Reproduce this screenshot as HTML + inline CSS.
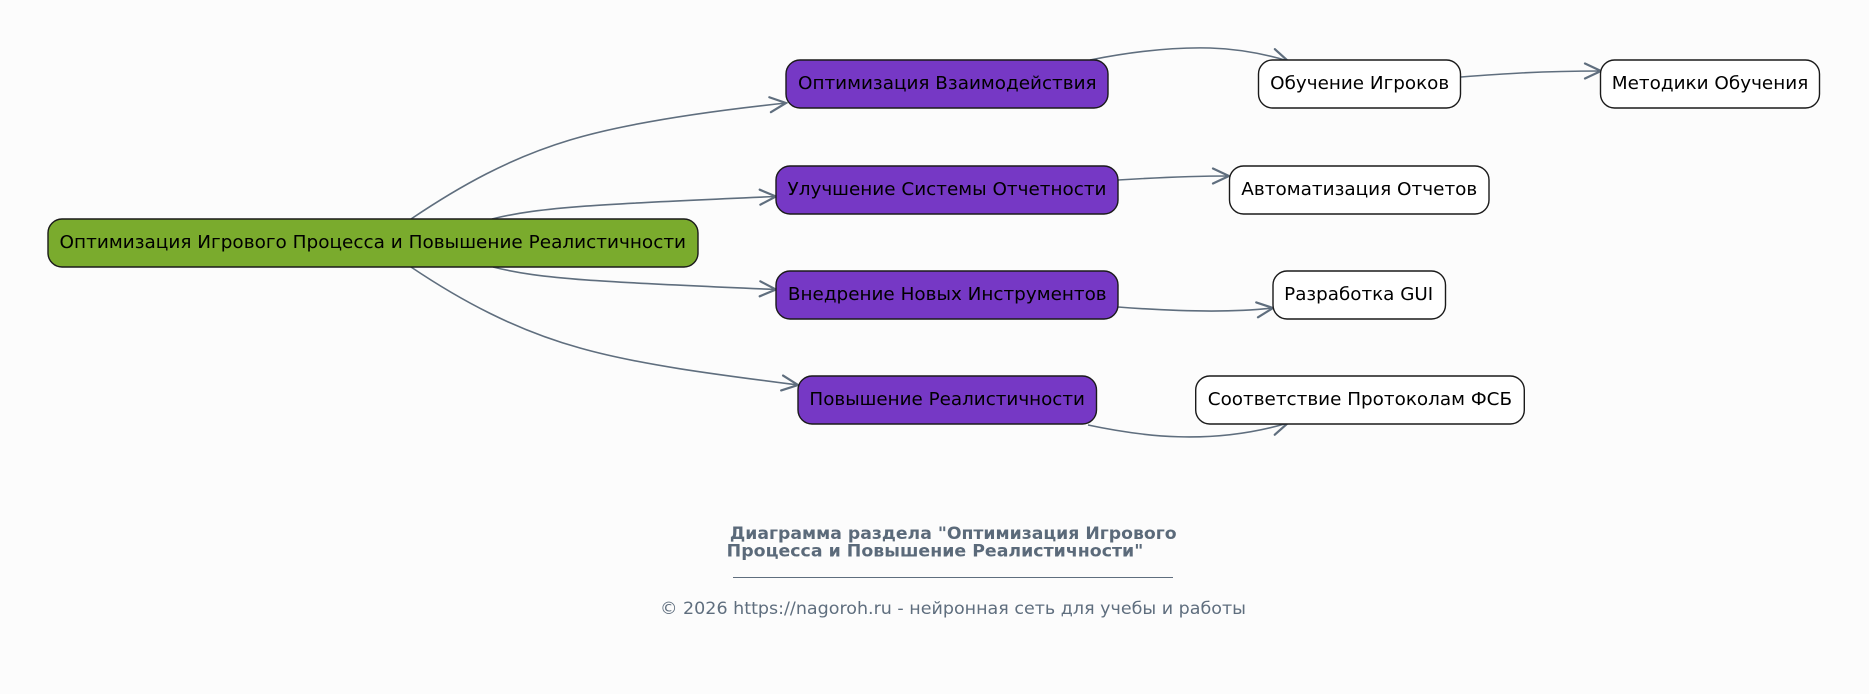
<!DOCTYPE html>
<html>
<head>
<meta charset="utf-8">
<style>
html,body{margin:0;padding:0;background:#fcfcfc;}
svg{display:block;}
text{font-family:"DejaVu Sans","Liberation Sans",sans-serif;}
</style>
</head>
<body>
<svg width="1869" height="694" viewBox="0 0 1869 694" xmlns="http://www.w3.org/2000/svg">
<defs>
<marker id="vee" markerUnits="userSpaceOnUse" viewBox="-19 -10 21 20" refX="0" refY="0" markerWidth="21" markerHeight="20" orient="auto">
<path d="M-16,-7.5 L0,0 L-16,7.5" fill="none" stroke="#5f6e7e" stroke-width="2.2" stroke-linejoin="miter" stroke-linecap="round"/>
</marker>
</defs>
<rect x="0" y="0" width="1869" height="694" fill="#fcfcfc"/>

<g fill="none" stroke="#5f6e7e" stroke-width="1.6">
<path d="M411,219 C460,186 510,158 570,140 C630,122 720,110 786,103" marker-end="url(#vee)"/>
<path d="M492,219 C540,207 600,204 776,196.5" marker-end="url(#vee)"/>
<path d="M493,267 C540,279 600,282 776,289.5" marker-end="url(#vee)"/>
<path d="M411,267 C460,300 515,330 580,348 C640,365 720,375 798,385" marker-end="url(#vee)"/>
<path d="M1090,60 C1130,52 1170,47 1210,48 C1240,49 1265,54 1288,61" marker-end="url(#vee)"/>
<path d="M1461,77 C1500,74 1540,71 1601,71" marker-end="url(#vee)"/>
<path d="M1118,180 C1150,178 1190,176 1229,176" marker-end="url(#vee)"/>
<path d="M1118,307 C1170,311 1230,313 1273,308" marker-end="url(#vee)"/>
<path d="M1088,425 C1140,436 1210,446 1288,423" marker-end="url(#vee)"/>
</g>

<g stroke="#1a1a1a" stroke-width="1.4">
<rect x="48" y="219" width="650" height="48" rx="14" ry="14" fill="#7aab2d"/>
<rect x="786" y="60" width="322" height="48" rx="14" ry="14" fill="#7638c5"/>
<rect x="776" y="166" width="342" height="48" rx="14" ry="14" fill="#7638c5"/>
<rect x="776" y="271" width="342" height="48" rx="14" ry="14" fill="#7638c5"/>
<rect x="798" y="376" width="298.5" height="48" rx="14" ry="14" fill="#7638c5"/>
<rect x="1258.5" y="60" width="202" height="48" rx="14" ry="14" fill="#ffffff"/>
<rect x="1600.5" y="60" width="219" height="48" rx="14" ry="14" fill="#ffffff"/>
<rect x="1229.5" y="166" width="259.5" height="48" rx="14" ry="14" fill="#ffffff"/>
<rect x="1273" y="271" width="172.5" height="48" rx="14" ry="14" fill="#ffffff"/>
<rect x="1195.7" y="376" width="328.6" height="48" rx="14" ry="14" fill="#ffffff"/>
</g>

<g font-size="18" fill="#000000" text-anchor="middle">
<text x="372.8" y="248" textLength="626.5" lengthAdjust="spacingAndGlyphs">Оптимизация Игрового Процесса и Повышение Реалистичности</text>
<text x="947.3" y="89" textLength="298.6" lengthAdjust="spacingAndGlyphs">Оптимизация Взаимодействия</text>
<text x="947" y="195" textLength="319" lengthAdjust="spacingAndGlyphs">Улучшение Системы Отчетности</text>
<text x="947.3" y="300" textLength="318.7" lengthAdjust="spacingAndGlyphs">Внедрение Новых Инструментов</text>
<text x="947.2" y="405" textLength="275.5" lengthAdjust="spacingAndGlyphs">Повышение Реалистичности</text>
<text x="1359.7" y="89" textLength="179" lengthAdjust="spacingAndGlyphs">Обучение Игроков</text>
<text x="1710" y="89" textLength="196.5" lengthAdjust="spacingAndGlyphs">Методики Обучения</text>
<text x="1359.3" y="195" textLength="236" lengthAdjust="spacingAndGlyphs">Автоматизация Отчетов</text>
<text x="1358.7" y="300" textLength="149" lengthAdjust="spacingAndGlyphs">Разработка GUI</text>
<text x="1359.9" y="405" textLength="304.3" lengthAdjust="spacingAndGlyphs">Соответствие Протоколам ФСБ</text>
</g>

<g fill="#5b6a7a" text-anchor="middle">
<text x="953.3" y="539" font-size="17" font-weight="bold" textLength="446.7" lengthAdjust="spacingAndGlyphs">Диаграмма раздела "Оптимизация Игрового</text>
<text x="935" y="556.7" font-size="17" font-weight="bold" textLength="416.6" lengthAdjust="spacingAndGlyphs">Процесса и Повышение Реалистичности"</text>
<text x="953" y="614" font-size="16.5" fill="#5f6e7e" textLength="586" lengthAdjust="spacingAndGlyphs">© 2026 https://nagoroh.ru - нейронная сеть для учебы и работы</text>
</g>
<line x1="733" y1="577.5" x2="1173" y2="577.5" stroke="#5f6e7e" stroke-width="1"/>
</svg>
</body>
</html>
